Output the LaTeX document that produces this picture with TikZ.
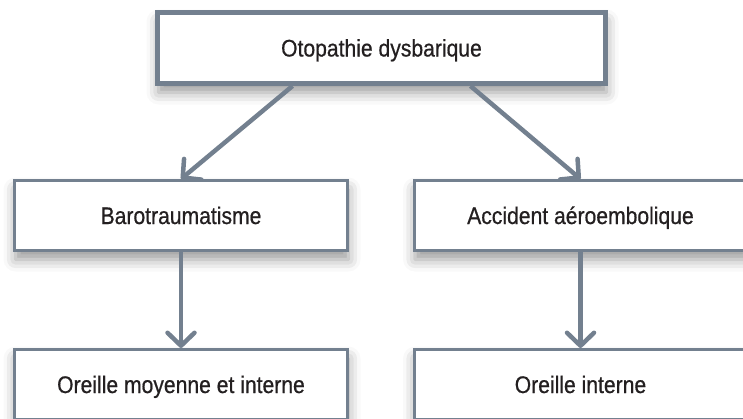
\documentclass[tikz,border=0pt]{standalone}
\usepackage{fontspec}
\setmainfont{Liberation Sans}[FakeStretch=0.88,FakeBold=0.6]
\usetikzlibrary{arrows.meta,shadows.blur}

\definecolor{slate}{RGB}{115,128,143}
\definecolor{ink}{RGB}{35,31,32}

\tikzset{
  box/.style={rectangle, draw=slate, line width=3pt, fill=white,
    minimum width=333pt, minimum height=70pt, inner sep=0pt,
    text height=17pt, text depth=0pt,
    text=ink, font=\fontsize{24}{28}\selectfont,
    blur shadow={shadow xshift=1pt, shadow yshift=-9pt,
      shadow blur radius=12pt, shadow opacity=40}},
  link/.style={draw=slate, line width=4.5pt,
    -{Straight Barb[length=13pt,width=27pt,round]}},
}

\begin{document}
\begin{tikzpicture}[x=1pt,y=-1pt]
  \useasboundingbox (0,0) rectangle (743,418);

  % top
  \node[box, line width=5pt, minimum width=448pt, minimum height=71pt] (otopathie) at(381.5,48){Otopathie dysbarique};

  % middle row
  \node[box] (baro) at(181,215.5){Barotraumatisme};
  \node[box] (accident) at(580.5,215.5){Accident aéroembolique};

  % bottom row
  \node[box] (moyenne) at(181,384.5){Oreille moyenne et interne};
  \node[box] (interne) at(580.5,384.5){Oreille interne};

  % arrows
  \draw[link] ([xshift=-89pt]otopathie.south) -- (baro.north);
  \draw[link] ([xshift=89pt]otopathie.south) -- (accident.north);
  \draw[link] (baro.south) -- (moyenne.north);
  \draw[link] (accident.south) -- (interne.north);
\end{tikzpicture}
\end{document}
